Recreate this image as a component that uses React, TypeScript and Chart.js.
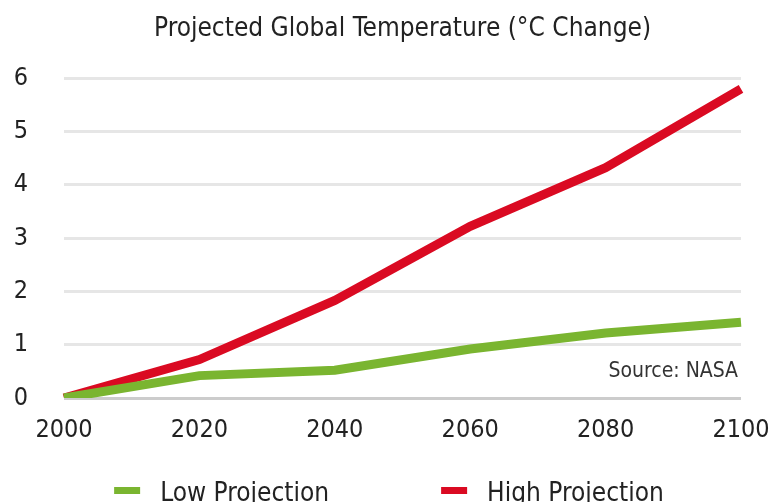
import React, { useEffect, useRef } from "react";
import { Chart, registerables } from "chart.js";

Chart.register(...registerables);

const years = ["2000", "2020", "2040", "2060", "2080", "2100"];
const lowProjection = [0, 0.42, 0.52, 0.92, 1.22, 1.42];
const highProjection = [0, 0.72, 1.83, 3.22, 4.32, 5.8];
const yTicks = [0, 1, 2, 3, 4, 5, 6];
const seriesNames = ["Low Projection", "High Projection"];

const FONT = "'DejaVu Sans Condensed', 'DejaVu Sans', sans-serif";
const TEXT = "#222222";
const GREEN = "#7AB530";
const RED = "#DA0A22";

// Footnote inside the plot, anchored to the right edge at the 0.5 level
const sourceNote = {
  id: "sourceNote",
  afterDatasetsDraw(chart: any) {
    const { ctx, chartArea, scales } = chart;
    const y = scales.y.getPixelForValue(0.5);
    ctx.save();
    ctx.font = `21px ${FONT}`;
    ctx.fillStyle = "#333333";
    ctx.textAlign = "right";
    ctx.textBaseline = "middle";
    ctx.fillText("Source: NASA", chartArea.right - 3, y);
    ctx.restore();
  },
};

// Legend with short thick line markers, centered at the bottom of the canvas
const bottomLegend = {
  id: "bottomLegend",
  afterDraw(chart: any) {
    const { ctx, width, height } = chart;
    const colors = [GREEN, RED];
    const marker = 26;
    const gap = 20;
    const spacing = 112;
    ctx.save();
    ctx.font = `26px ${FONT}`;
    const widths = seriesNames.map((n) => marker + gap + ctx.measureText(n).width);
    const total = widths.reduce((a, b) => a + b, 0) + spacing * (widths.length - 1);
    let x = (width - total) / 2;
    const baseline = height - 1;
    seriesNames.forEach((name, i) => {
      ctx.fillStyle = colors[i];
      ctx.fillRect(x, baseline - 14, marker, 7);
      ctx.fillStyle = TEXT;
      ctx.textAlign = "left";
      ctx.textBaseline = "alphabetic";
      ctx.fillText(name, x + marker + gap, baseline);
      x += widths[i] + spacing;
    });
    ctx.restore();
  },
};

export default function App() {
  const ref = useRef<HTMLCanvasElement | null>(null);

  useEffect(() => {
    if (!ref.current) return;
    const chart = new Chart(ref.current, {
      type: "line",
      data: {
        labels: years,
        datasets: [
          {
            label: seriesNames[0],
            data: lowProjection,
            borderColor: GREEN,
            backgroundColor: GREEN,
            borderWidth: 9,
            pointRadius: 0,
            tension: 0,
            borderCapStyle: "butt",
            borderJoinStyle: "miter",
          },
          {
            label: seriesNames[1],
            data: highProjection,
            borderColor: RED,
            backgroundColor: RED,
            borderWidth: 9,
            pointRadius: 0,
            tension: 0,
            borderCapStyle: "butt",
            borderJoinStyle: "miter",
          },
        ],
      },
      options: {
        animation: false,
        responsive: true,
        maintainAspectRatio: false,
        layout: { padding: { left: 10, right: 37, top: 0, bottom: 54 } },
        plugins: {
          title: {
            display: true,
            fullSize: false,
            text: "Projected Global Temperature (°C Change)",
            color: TEXT,
            font: { family: FONT, size: 26, weight: "normal" },
            padding: { top: 14, bottom: 33 },
          },
          legend: { display: false },
          tooltip: { enabled: false },
        },
        scales: {
          x: {
            offset: false,
            grid: { display: false, drawTicks: false },
            border: { display: false },
            afterFit: (axis: any) => {
              axis.height = 50;
              axis.paddingLeft = 0;
              axis.paddingRight = 0;
            },
            ticks: {
              color: TEXT,
              font: { family: FONT, size: 25 },
              padding: 17,
              maxRotation: 0,
            },
          },
          y: {
            min: 0,
            max: 6,
            afterBuildTicks: (axis: any) => {
              axis.ticks = yTicks.map((v) => ({ value: v }));
            },
            afterFit: (axis: any) => {
              axis.width = 54;
            },
            grid: {
              drawTicks: false,
              color: (c: any) => (c.tick && c.tick.value === 0 ? "#cccccc" : "#e6e6e6"),
              lineWidth: 3,
            },
            border: { display: false },
            ticks: {
              color: TEXT,
              font: { family: FONT, size: 25 },
              padding: 36,
            },
          },
        },
      },
      plugins: [sourceNote, bottomLegend],
    });
    return () => chart.destroy();
  }, []);

  return (
    <div style={{ position: "fixed", left: 0, top: 0, width: 778, height: 502, overflow: "hidden", background: "#fff" }}>
      <div style={{ position: "relative", width: 778, height: 502 }}>
        <canvas ref={ref} />
      </div>
    </div>
  );
}
